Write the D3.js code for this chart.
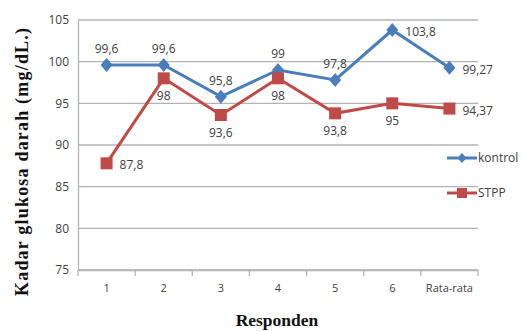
<!DOCTYPE html>
<html>
<head>
<meta charset="utf-8">
<script src="https://cdn.jsdelivr.net/npm/d3@7"></script>
<style>
body { margin: 0; background: #fff; }
text { font-family: "Open Sans", "Noto Sans", sans-serif; fill: #404040; }
</style>
</head>
<body>
<script>
var categories = ["1", "2", "3", "4", "5", "6", "Rata-rata"];
var kontrol = [99.6, 99.6, 95.8, 99, 97.8, 103.8, 99.27];
var stpp = [87.8, 98, 93.6, 98, 93.8, 95, 94.37];
var kontrolLabels = ["99,6", "99,6", "95,8", "99", "97,8", "103,8", "99,27"];
var stppLabels = ["87,8", "98", "93,6", "98", "93,8", "95", "94,37"];
var kontrolPos = ["top", "top", "top", "top", "top", "right", "right"];
var stppPos = ["right", "bottom", "bottom", "bottom", "bottom", "bottom", "right"];
var yTicks = [75, 80, 85, 90, 95, 100, 105];

var width = 522, height = 331;
var plotLeft = 78, plotRight = 478, plotTop = 20, plotBottom = 270;

var svg = d3.select("body").append("svg")
    .attr("width", width)
    .attr("height", height);

var x = d3.scaleBand().domain(categories).range([plotLeft, plotRight]);
var y = d3.scaleLinear().domain([75, 105]).range([plotBottom, plotTop]);

// gridlines
svg.selectAll(".grid")
    .data(yTicks)
    .enter()
    .append("line")
    .attr("x1", plotLeft)
    .attr("x2", plotRight)
    .attr("y1", function (d) { return y(d); })
    .attr("y2", function (d) { return y(d); })
    .style("stroke", "#b3b3b3")
    .style("stroke-width", 1.3);

// y axis
var yAxis = svg.append("g")
    .attr("transform", "translate(" + plotLeft + ",0)")
    .call(d3.axisLeft(y).tickValues(yTicks).tickSize(0).tickPadding(9));
yAxis.select(".domain").style("stroke", "#b3b3b3").style("stroke-width", 1.3);
yAxis.selectAll("text").style("font-size", "12px").style("fill", "#404040")
    .style("font-family", "'Open Sans', sans-serif");

// x axis
var xAxis = svg.append("g")
    .attr("transform", "translate(0," + plotBottom + ")")
    .call(d3.axisBottom(x).tickSize(0).tickPadding(14));
xAxis.select(".domain").style("stroke", "#b3b3b3").style("stroke-width", 1.3);
xAxis.selectAll("text").style("font-size", "11px").style("fill", "#404040")
    .style("font-family", "'Open Sans', sans-serif");

// category boundary ticks
var bounds = categories.map(function (c) { return x(c); }).concat([plotRight]);
svg.selectAll(".xtick")
    .data(bounds)
    .enter()
    .append("line")
    .attr("x1", function (d) { return d; })
    .attr("x2", function (d) { return d; })
    .attr("y1", plotBottom)
    .attr("y2", plotBottom + 6)
    .style("stroke", "#b3b3b3")
    .style("stroke-width", 1.3);

function cx(i) { return x(categories[i]) + x.bandwidth() / 2; }

var line = d3.line()
    .x(function (d, i) { return cx(i); })
    .y(function (d) { return y(d); });

function drawSeries(values, labels, pos, color, marker) {
    svg.append("path")
        .datum(values)
        .attr("d", line)
        .style("fill", "none")
        .style("stroke", color)
        .style("stroke-width", 3);

    svg.selectAll(null)
        .data(values)
        .enter()
        .append("path")
        .attr("transform", function (d, i) { return "translate(" + cx(i) + "," + y(d) + ")"; })
        .attr("d", marker)
        .style("fill", color);

    svg.selectAll(null)
        .data(values)
        .enter()
        .append("text")
        .attr("x", function (d, i) { return pos[i] == "right" ? cx(i) + 13 : cx(i); })
        .attr("y", function (d, i) {
            if (pos[i] == "top") return y(d) - 12;
            if (pos[i] == "bottom") return y(d) + 22;
            return y(d) + 6;
        })
        .attr("text-anchor", function (d, i) { return pos[i] == "right" ? "start" : "middle"; })
        .style("font-size", "12px")
        .text(function (d, i) { return labels[i]; });
}

var diamond = "M0,-7L6,0L0,7L-6,0Z";
var square = "M-6,-6H6V6H-6Z";

drawSeries(kontrol, kontrolLabels, kontrolPos, "#4a7ebb", diamond);
drawSeries(stpp, stppLabels, stppPos, "#be4b48", square);

// legend
var legend = [
    { name: "kontrol", color: "#4a7ebb", marker: "M0,-5L4.5,0L0,5L-4.5,0Z", y: 158 },
    { name: "STPP", color: "#be4b48", marker: "M-5,-5H5V5H-5Z", y: 193 }
];
var lg = svg.selectAll(".legend")
    .data(legend)
    .enter()
    .append("g")
    .attr("transform", function (d) { return "translate(447," + d.y + ")"; });
lg.append("line")
    .attr("x1", 0).attr("x2", 30)
    .style("stroke", function (d) { return d.color; })
    .style("stroke-width", 3);
lg.append("path")
    .attr("transform", "translate(15,0)")
    .attr("d", function (d) { return d.marker; })
    .style("fill", function (d) { return d.color; });
lg.append("text")
    .attr("x", 31)
    .attr("y", 4)
    .style("font-size", "12px")
    .text(function (d) { return d.name; });

// axis titles
svg.append("text")
    .attr("transform", "translate(28,162) rotate(-90)")
    .attr("text-anchor", "middle")
    .attr("textLength", 268)
    .attr("lengthAdjust", "spacing")
    .style("font-family", "'Liberation Serif', serif")
    .style("font-weight", "bold")
    .style("font-size", "18px")
    .style("fill", "#111")
    .text("Kadar glukosa darah (mg/dL.)");

svg.append("text")
    .attr("x", 277)
    .attr("y", 326)
    .attr("text-anchor", "middle")
    .style("font-family", "'Liberation Serif', serif")
    .style("font-weight", "bold")
    .style("font-size", "17.5px")
    .style("fill", "#111")
    .text("Responden");
</script>
</body>
</html>
